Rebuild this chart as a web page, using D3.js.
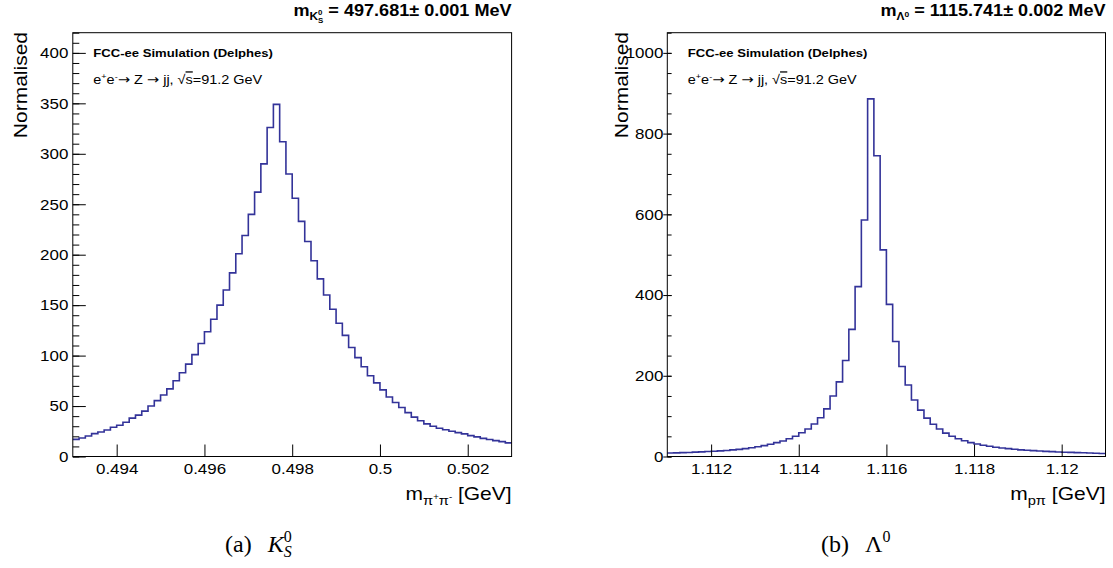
<!DOCTYPE html>
<html><head><meta charset="utf-8">
<script src="https://cdn.jsdelivr.net/npm/d3@7"></script>
<style>body{margin:0;background:#fff}svg{display:block}</style>
</head><body>
<svg id="c" width="1113" height="568"></svg>
<script>
// ---------- data ----------
const kshortCounts = [17,18.4,20.3,22.7,24.3,26.3,29,31,34,38,41,45,50,55.4,61,67,75,83,91.5,101,
  112,123.6,136,150,165,182,201,219,240,262,290,326,349,312,280,256,233,213,194,176,
  160,146,132,120,108,98,89,80,73,66,59,53.5,48.5,43.5,39,35.5,32.3,30,28,26.5,
  25,23.7,22.4,20.7,19.4,18,16.8,15.7,14.7,13.5];
const lambdaCounts = [8.5,9,9.5,10,10.8,11.5,12.3,13,14,15,16.3,17.7,19.5,21.5,24,27,30.5,34.5,38.4,44,
  50,59,68,80.6,96,118,150,185,238,315,421,586,886,745,512,377,285,223,177,140,
  115,95,80,68,58,50,44,39,34.5,31,28,25.5,23,21,19.5,18,16.5,15.5,14.5,13.5,
  12.7,12,11.3,10.7,10.2,9.7,9.2,8.5,8,7.5];
const kshortXTicks = [0.494,0.496,0.498,0.5,0.502];
const kshortXLabels = ["0.494","0.496","0.498","0.5","0.502"];
const lambdaXTicks = [1.112,1.114,1.116,1.118,1.12];
const lambdaXLabels = ["1.112","1.114","1.116","1.118","1.12"];
const kshortYTicks = [0,50,100,150,200,250,300,350,400];
const kshortYLabels = ["0","50","100","150","200","250","300","350","400"];
const lambdaYTicks = [0,200,400,600,800,1000];
const lambdaYLabels = ["0","200","400","600","800","1000"];

const SX = 1.13;
const FONT = "'Liberation Sans', Arial, Helvetica, sans-serif";
const ARROWFONT = "'DejaVu Sans', sans-serif";
const LINE = "#333399";
const svg = d3.select("#c");

function sgroup(x, y, rot) {
  return svg.append("g").attr("transform", `translate(${x},${y}) rotate(${rot||0}) scale(${SX},1)`);
}

function panel(cfg) {
  const x = d3.scaleLinear().domain(cfg.xDomain).range([cfg.left, cfg.right]);
  const y = d3.scaleLinear().domain([0, cfg.yMax]).range([cfg.bottom, cfg.top]);
  const n = cfg.counts.length;
  const w = (cfg.xDomain[1] - cfg.xDomain[0]) / n;
  const pts = [];
  cfg.counts.forEach((v, i) => {
    const e0 = cfg.xDomain[0] + i * w;
    pts.push([e0, v]); pts.push([e0 + w, v]);
  });
  const g = svg.append("g");
  g.append("path").attr("d", d3.line().x(d => x(d[0])).y(d => y(d[1]))(pts))
    .attr("fill", "none").attr("stroke", LINE).attr("stroke-width", 1.6);
  const xa = g.append("g").attr("transform", `translate(0,${cfg.bottom})`)
    .call(d3.axisBottom(x).tickValues(cfg.xTicks).tickFormat((d, i) => cfg.xLabels[i])
      .tickSizeInner(-12).tickSizeOuter(0).tickPadding(7));
  xa.select(".domain").remove();
  xa.selectAll(".tick text").attr("font-family", FONT).attr("font-size", 15).attr("fill", "#000")
    .attr("transform", `scale(${SX},1)`);
  const ya2 = g.append("g").attr("transform", `translate(${cfg.left},0)`)
    .call(d3.axisLeft(y).tickValues(cfg.yMinor).tickFormat("").tickSizeInner(-cfg.minorLen).tickSizeOuter(0));
  ya2.select(".domain").remove();
  const ya = g.append("g").attr("transform", `translate(${cfg.left},0)`)
    .call(d3.axisLeft(y).tickValues(cfg.yTicks).tickFormat((d, i) => cfg.yLabels[i])
      .tickSizeInner(-cfg.majorLen).tickSizeOuter(0).tickPadding(cfg.yPad));
  ya.select(".domain").remove();
  if (cfg.majorOut) ya.selectAll(".tick line").attr("x1", -cfg.majorOut);
  ya.selectAll(".tick text").attr("font-family", FONT).attr("font-size", 15).attr("fill", "#000")
    .attr("transform", `scale(${SX},1)`);
  svg.selectAll(".tick line").attr("stroke", "#000");
  g.append("rect").attr("x", cfg.left).attr("y", cfg.top)
    .attr("width", cfg.right - cfg.left).attr("height", cfg.bottom - cfg.top)
    .attr("fill", "none").attr("stroke", "#000").attr("stroke-width", 1);
  return {x, y};
}

const yMinorK = d3.range(0, 421, 10);
const yMinorL = d3.range(0, 1051, 50);

panel({left: 72.8, right: 511.6, top: 32.7, bottom: 456.5, xDomain: [0.493, 0.503], yMax: 420,
  counts: kshortCounts, xTicks: kshortXTicks, xLabels: kshortXLabels,
  yTicks: kshortYTicks, yLabels: kshortYLabels, yMinor: yMinorK,
  majorLen: 13, minorLen: 6.5, yPad: 3.9});
panel({left: 667.3, right: 1105.5, top: 32.7, bottom: 456.5, xDomain: [1.111, 1.121], yMax: 1050,
  counts: lambdaCounts, xTicks: lambdaXTicks, xLabels: lambdaXLabels,
  yTicks: lambdaYTicks, yLabels: lambdaYLabels, yMinor: yMinorL,
  majorLen: 4.3, minorLen: 4.3, majorOut: 4, yPad: 3.5});

// ---------- texts ----------
function tx(g, size, weight, anchor) {
  return g.append("text").attr("font-family", FONT).attr("font-size", size)
    .attr("font-weight", weight || "normal").attr("text-anchor", anchor || "start").attr("fill", "#000");
}
{
  const t = tx(sgroup(511.6, 16), 16, "bold", "end");
  t.append("tspan").text("m");
  t.append("tspan").attr("font-size", 10.5).attr("dy", 4).text("K");
  t.append("tspan").attr("font-size", 7).attr("dy", -5.5).text("0");
  t.append("tspan").attr("font-size", 7).attr("dx", -3.9).attr("dy", 8.5).text("S");
  t.append("tspan").attr("dy", -7).text(" = 497.681\u00b1 0.001 MeV");
}
{
  const t = tx(sgroup(1105.5, 16), 16, "bold", "end");
  t.append("tspan").text("m");
  t.append("tspan").attr("font-size", 10.5).attr("dy", 4).text("\u039b");
  t.append("tspan").attr("font-size", 7.5).attr("dy", -3).text("0");
  t.append("tspan").attr("dy", -1).text("  = 1115.741\u00b1 0.002 MeV");
}
tx(sgroup(27, 32, -90), 18.6, "normal", "end").text("Normalised");
tx(sgroup(627.5, 32, -90), 18.6, "normal", "end").text("Normalised");
{
  const t = tx(sgroup(511.6, 500), 18.6, "normal", "end");
  t.append("tspan").text("m");
  t.append("tspan").attr("font-size", 13).attr("dy", 5).text("\u03c0");
  t.append("tspan").attr("font-size", 8.5).attr("dy", -5).text("+");
  t.append("tspan").attr("font-size", 13).attr("dy", 5).text("\u03c0");
  t.append("tspan").attr("font-size", 8.5).attr("dy", -5).text("-");
  t.append("tspan").text(" [GeV]");
}
{
  const t = tx(sgroup(1105.5, 500), 18.6, "normal", "end");
  t.append("tspan").text("m");
  t.append("tspan").attr("font-size", 13).attr("dy", 5).text("p\u03c0");
  t.append("tspan").attr("dy", -5).text(" [GeV]");
}
function labels(x0) {
  tx(sgroup(x0, 56.7), 11.6, "bold").text("FCC-ee Simulation (Delphes)");
  const t = tx(sgroup(x0, 83.5), 12.8, "normal");
  t.append("tspan").text("e");
  t.append("tspan").attr("font-size", 8).attr("dy", -5).text("+");
  t.append("tspan").attr("dy", 5).text("e");
  t.append("tspan").attr("font-size", 8).attr("dy", -5).text("-");
  t.append("tspan").attr("dy", 5).attr("font-family", ARROWFONT).attr("font-size", 13).text("\u2192");
  t.append("tspan").text(" Z ");
  t.append("tspan").attr("font-family", ARROWFONT).attr("font-size", 13).text("\u2192");
  t.append("tspan").text(" jj, \u221a");
  t.append("tspan").style("text-decoration", "overline").text("s");
  t.append("tspan").text("=91.2 GeV");
}
labels(93.3);
labels(687.8);

const SERIF = "'Liberation Serif', 'DejaVu Serif', serif";
{
  const t = svg.append("text").attr("x", 225).attr("y", 552).attr("font-family", SERIF).attr("font-size", 24);
  t.append("tspan").text("(a)");
  t.append("tspan").attr("dx", 16).attr("font-style", "italic").text("K");
  t.append("tspan").attr("font-size", 16).attr("dy", -10).text("0");
  t.append("tspan").attr("font-size", 16).attr("font-style", "italic").attr("dx", -8).attr("dy", 15).text("S");
}
{
  const t = svg.append("text").attr("x", 821).attr("y", 552).attr("font-family", SERIF).attr("font-size", 24);
  t.append("tspan").text("(b)");
  t.append("tspan").attr("dx", 16).text("\u039b");
  t.append("tspan").attr("font-size", 16).attr("dy", -10).text("0");
}
</script>
</body></html>
